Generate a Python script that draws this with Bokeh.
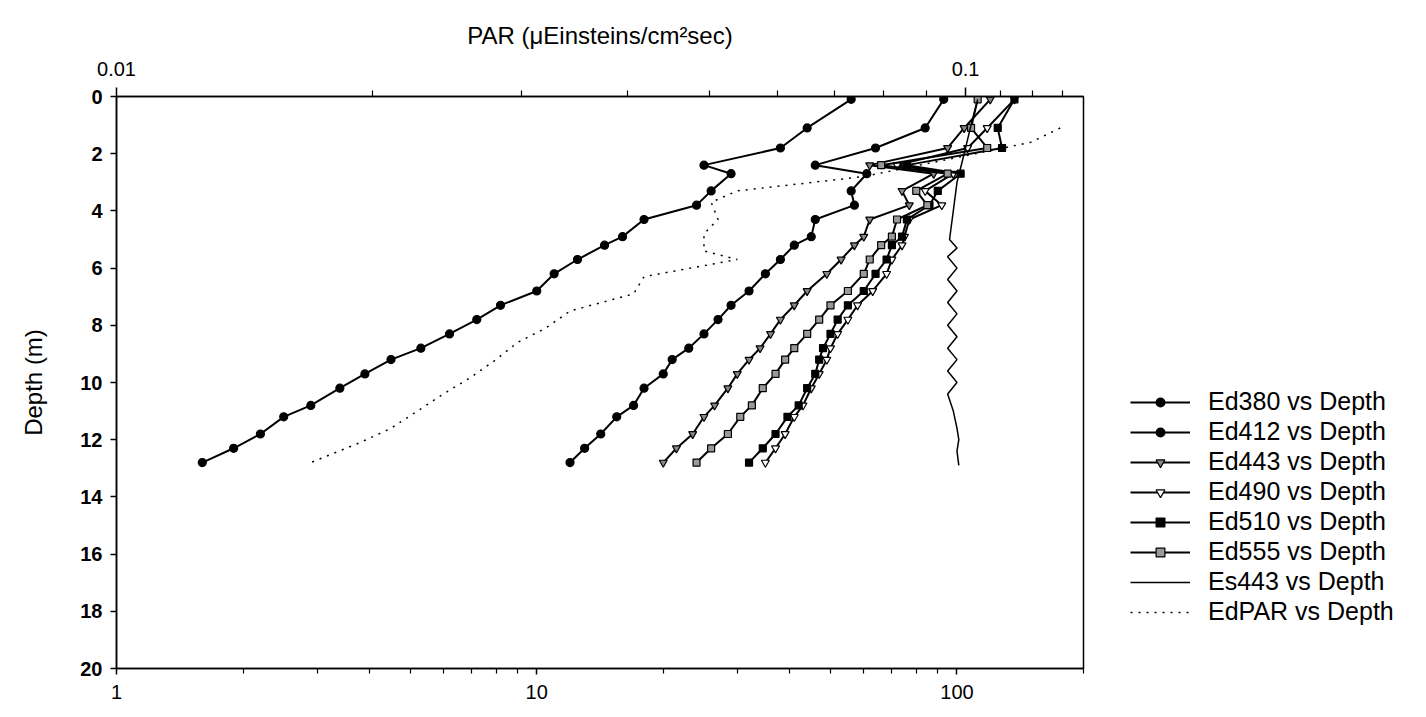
from bokeh.plotting import figure
from bokeh.models import (LogAxis, Range1d, Legend, LegendItem, FixedTicker,
                          LogScale, CustomJSTickFormatter)
from bokeh.embed import file_html
from bokeh.resources import INLINE

# ---------------- data (bottom axis units, depth in m) ----------------
depth = [0.1, 1.1, 1.8, 2.4, 2.7, 3.3, 3.8, 4.3, 4.9, 5.2, 5.7, 6.2, 6.8,
         7.3, 7.8, 8.3, 8.8, 9.2, 9.7, 10.2, 10.8, 11.2, 11.8, 12.3, 12.8]

ed380 = [56, 44, 38, 25, 29, 26, 24, 18, 16, 14.5, 12.5, 11, 10, 8.2,
         7.2, 6.2, 5.3, 4.5, 3.9, 3.4, 2.9, 2.5, 2.2, 1.9, 1.6]
ed412 = [93, 84, 64, 46, 61, 56, 57, 46, 45, 41, 38, 35, 32, 29, 27,
         25, 23, 21, 20, 18, 17, 15.5, 14.2, 13, 12]
ed443 = [120, 104, 95, 62, 88, 74, 77, 62, 60, 57, 53, 49, 44, 41, 38,
         36, 34, 32, 30, 28.5, 26.5, 25, 23.5, 21.5, 20]
ed490 = [137, 118, 106, 72, 98, 84, 92, 77, 75, 74, 70, 68, 63, 58, 55,
         52, 50, 49, 47, 45, 43, 41, 39, 37, 35]
ed510 = [137, 125, 128, 76, 102, 90, 86, 76, 74, 70, 68, 64, 60, 55, 52,
         50, 48, 47, 46, 44, 42, 39.5, 37, 34.5, 32]
ed555 = [112, 108, 118, 66, 95, 80, 85, 72, 70, 66, 62, 60, 55, 50, 47,
         44, 41, 39, 37, 34.5, 32.5, 30.5, 28.5, 26, 24]

es_depth = [0.1, 1.0, 2.0, 3.0, 4.0, 5.0, 5.3, 5.6, 6.0, 6.4, 6.8, 7.2,
            7.6, 8.0, 8.4, 8.8, 9.2, 9.6, 10.0, 10.4, 11.0, 11.6, 12.0,
            12.4, 12.9]
es443 = [112, 108, 104, 100, 98, 96, 100, 95, 100, 95, 100, 95, 100, 95,
         100, 95, 100, 95, 100, 95, 98, 100, 101, 100, 101]

par_depth = [1.1, 1.6, 2.2, 2.8, 3.3, 3.7, 4.3, 4.8, 5.4, 5.7, 6.3, 6.9,
             7.5, 8.1, 8.6, 9.2, 9.8, 10.4, 11.0, 11.6, 12.1, 12.8]
edpar = [176, 150, 95, 60, 30, 26, 27, 25, 25, 30, 18, 17, 12, 10.5, 9,
         8, 7, 6, 5.2, 4.5, 3.8, 2.9]

x_ticks = [1, 10, 100]
x_minor = [2, 3, 4, 5, 6, 7, 8, 9, 20, 30, 40, 50, 60, 70, 80, 90, 200]
top_ticks = [0.01, 0.1]
top_minor = [0.02, 0.03, 0.04, 0.05, 0.06, 0.07, 0.08, 0.09, 0.11, 0.12, 0.13]
y_ticks = list(range(0, 21, 2))

FONT = "Liberation Sans"
TICK_SIZE = "20px"
TITLE_SIZE = "24px"

p = figure(width=1426, height=717, x_axis_type="log",
           x_range=Range1d(1, 200), y_range=Range1d(20, 0),
           output_backend="svg", toolbar_location=None,
           min_border_left=116, min_border_top=96, min_border_bottom=49,
           min_border_right=0)
p.frame_width = 967
p.frame_height = 572
p.grid.visible = False
p.outline_line_color = "black"
p.outline_line_width = 1.5
p.background_fill_color = "white"
p.border_fill_color = "white"

def style_axis(ax):
    ax.major_label_text_font = FONT
    ax.major_label_text_font_size = TICK_SIZE
    ax.major_label_text_color = "black"
    ax.axis_label_text_font = FONT
    ax.axis_label_text_font_style = "normal"
    ax.axis_label_text_font_size = TITLE_SIZE
    ax.axis_label_text_color = "black"
    ax.axis_line_width = 1.5
    ax.major_tick_line_width = 1.5
    ax.minor_tick_line_width = 1.2
    ax.major_tick_in = 0
    ax.minor_tick_in = 0

# bottom axis
xa = p.xaxis[0]
xa.ticker = FixedTicker(ticks=x_ticks, minor_ticks=x_minor)
xa.formatter = CustomJSTickFormatter(code="return tick.toFixed(0);")
style_axis(xa)
xa.major_tick_out = 6
xa.minor_tick_out = 5
xa.major_label_standoff = 10

# left axis
ya = p.yaxis[0]
ya.ticker = FixedTicker(ticks=y_ticks)
ya.axis_label = "Depth (m)"
style_axis(ya)
ya.major_label_text_font_style = "bold"
ya.major_tick_out = 6
ya.minor_tick_out = 0
ya.major_label_standoff = 8
ya.axis_label_standoff = 30

# top axis
p.extra_x_ranges = {"top": Range1d(0.01, 0.1377)}
p.extra_x_scales = {"top": LogScale()}
ta = LogAxis(x_range_name="top",
             ticker=FixedTicker(ticks=top_ticks, minor_ticks=top_minor),
             axis_label="PAR (\u03bcEinsteins/cm\u00b2sec)")
ta.formatter = CustomJSTickFormatter(code="return tick.toString();")
style_axis(ta)
ta.major_tick_out = 9
ta.minor_tick_out = 6
ta.major_label_standoff = 12
ta.axis_label_standoff = 10
p.add_layout(ta, "above")

items = []
def series(x, y, marker, fill, label, size=8):
    r = p.line(x, y, line_color="black", line_width=2)
    m = p.scatter(x, y, marker=marker, size=size, line_color="black",
                  fill_color=fill, line_width=1.2)
    items.append(LegendItem(label=label, renderers=[r, m]))

series(ed380, depth, "circle", "black", "Ed380 vs Depth")
series(ed412, depth, "circle", "black", "Ed412 vs Depth")
series(ed443, depth, "inverted_triangle", "#888888", "Ed443 vs Depth")
series(ed490, depth, "inverted_triangle", "white", "Ed490 vs Depth")
series(ed510, depth, "square", "black", "Ed510 vs Depth", size=7)
series(ed555, depth, "square", "#999999", "Ed555 vs Depth", size=7)
r = p.line(es443, es_depth, line_color="black", line_width=1.5)
items.append(LegendItem(label="Es443 vs Depth", renderers=[r]))
r = p.line(edpar, par_depth, line_color="black", line_width=1.5,
           line_dash="2 6")
items.append(LegendItem(label="EdPAR vs Depth", renderers=[r]))

legend = Legend(items=items, location=(41, 36), border_line_alpha=0,
                background_fill_alpha=0, label_text_font=FONT,
                label_text_font_size="25px", label_text_color="black",
                glyph_width=60, glyph_height=22, spacing=1,
                label_standoff=18, padding=6, margin=0,
                label_height=22)
p.add_layout(legend, "right")

open("out.html", "w").write(file_html(p, INLINE))
